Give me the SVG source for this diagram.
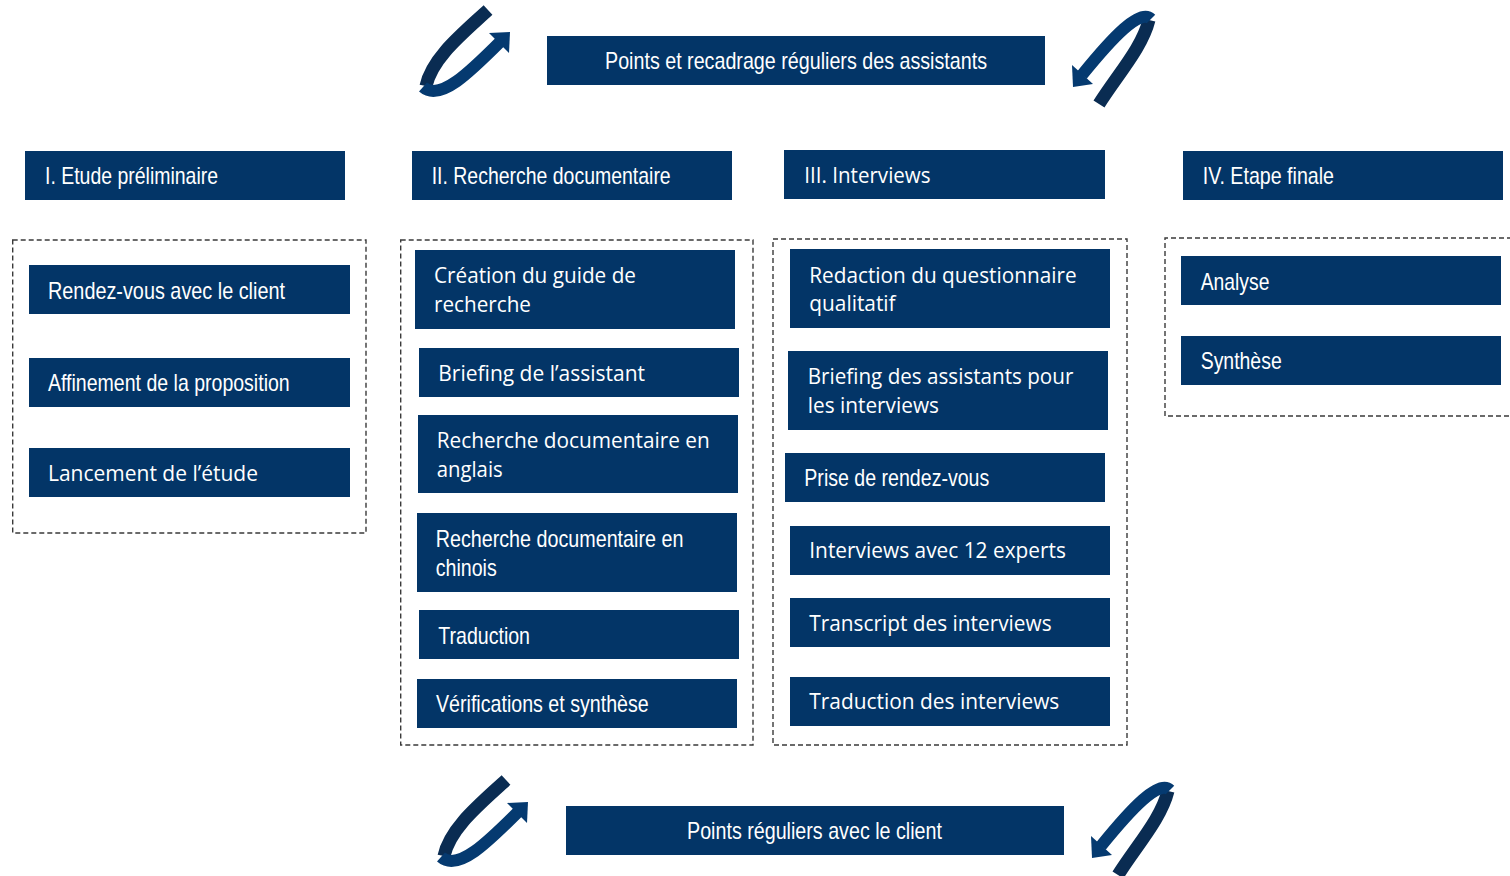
<svg xmlns="http://www.w3.org/2000/svg" width="1510" height="876" viewBox="0 0 1510 876">
<style>
.box{fill:#033567}
.dash{fill:none;stroke:#3a3a3a;stroke-width:1.4;stroke-dasharray:5 3}
.n{font-family:"Liberation Sans Narrow","Liberation Sans",Arial,sans-serif;font-size:24px;fill:#fff}
.o{font-family:"Open Sans","Noto Sans",sans-serif;font-size:21px;fill:#fff}
.back{fill:none;stroke:#0a2c52;stroke-width:13}
.front{fill:none;stroke:#053a70;stroke-width:12}
.head{fill:#053a70}
</style>
<rect width="1510" height="876" fill="#fff"/>
<g id="cycle-arrows">
  <g id="arrow-top-left">
    <path class="back" d="M488 10 C462 34 432 58 426 86"/>
    <path class="front" d="M423 87 C440 102 470 72 501 41"/>
    <polygon class="head" points="510,32 489,33 509,53"/>
  </g>
  <g id="arrow-top-right">
    <path class="back" d="M1099 104 C1118 74 1142 48 1149 20"/>
    <path class="front" d="M1151 19 C1140 8 1112 38 1082 75"/>
    <polygon class="head" points="1073,87 1072,65 1093,84"/>
  </g>
  <g id="arrow-bottom-left" transform="translate(18,770)">
    <path class="back" d="M488 10 C462 34 432 58 426 86"/>
    <path class="front" d="M423 87 C440 102 470 72 501 41"/>
    <polygon class="head" points="510,32 489,33 509,53"/>
  </g>
  <g id="arrow-bottom-right" transform="translate(19,771)">
    <path class="back" d="M1099 104 C1118 74 1142 48 1149 20"/>
    <path class="front" d="M1151 19 C1140 8 1112 38 1082 75"/>
    <polygon class="head" points="1073,87 1072,65 1093,84"/>
  </g>
</g>
<g id="banner-assistants"><rect class="box" x="547" y="36" width="498" height="49"/><text class="n" x="796" y="69" text-anchor="middle" textLength="382" lengthAdjust="spacingAndGlyphs">Points et recadrage réguliers des assistants</text></g>
<g id="banner-client"><rect class="box" x="566" y="806" width="498" height="49"/><text class="n" x="814.5" y="839" text-anchor="middle" textLength="255" lengthAdjust="spacingAndGlyphs">Points réguliers avec le client</text></g>

<g id="phase-1">
  <g id="h1"><rect class="box" x="25" y="151" width="320" height="49"/><text class="n" x="45" y="184" textLength="173" lengthAdjust="spacingAndGlyphs">I. Etude préliminaire</text></g>
  <rect id="group-1" class="dash" x="12.7" y="240" width="353.3" height="293"/>
  <g id="n1-1"><rect class="box" x="29" y="265" width="321" height="49"/><text class="n" x="48" y="299.3" textLength="237" lengthAdjust="spacingAndGlyphs">Rendez-vous avec le client</text></g>
  <g id="n1-2"><rect class="box" x="29" y="358" width="321" height="49"/><text class="n" x="48" y="390.7" textLength="241.7" lengthAdjust="spacingAndGlyphs">Affinement de la proposition</text></g>
  <g id="n1-3"><rect class="box" x="29" y="448" width="321" height="49"/><text class="o" x="48" y="480.7" textLength="210" lengthAdjust="spacingAndGlyphs">Lancement de l’étude</text></g>
</g>

<g id="phase-2">
  <g id="h2"><rect class="box" x="412" y="151" width="320" height="49"/><text class="n" x="431.7" y="184.3" textLength="239" lengthAdjust="spacingAndGlyphs">II. Recherche documentaire</text></g>
  <rect id="group-2" class="dash" x="400.7" y="240" width="352.3" height="505"/>
  <g id="n2-1"><rect class="box" x="415" y="250" width="320" height="79"/><text class="o" x="434" y="282.7" textLength="202" lengthAdjust="spacingAndGlyphs">Création du guide de</text><text class="o" x="434" y="311.7" textLength="97" lengthAdjust="spacingAndGlyphs">recherche</text></g>
  <g id="n2-2"><rect class="box" x="419" y="348" width="320" height="49"/><text class="o" x="438.3" y="380.7" textLength="206.7" lengthAdjust="spacingAndGlyphs">Briefing de l’assistant</text></g>
  <g id="n2-3"><rect class="box" x="418" y="415" width="320" height="78"/><text class="o" x="436.7" y="448" textLength="273" lengthAdjust="spacingAndGlyphs">Recherche documentaire en</text><text class="o" x="436.7" y="476.7" textLength="66" lengthAdjust="spacingAndGlyphs">anglais</text></g>
  <g id="n2-4"><rect class="box" x="417" y="513" width="320" height="79"/><text class="n" x="435.7" y="546.7" textLength="247.7" lengthAdjust="spacingAndGlyphs">Recherche documentaire en</text><text class="n" x="435.7" y="575.7" textLength="61" lengthAdjust="spacingAndGlyphs">chinois</text></g>
  <g id="n2-5"><rect class="box" x="419" y="610" width="320" height="49"/><text class="n" x="438.3" y="644" textLength="91.7" lengthAdjust="spacingAndGlyphs">Traduction</text></g>
  <g id="n2-6"><rect class="box" x="417" y="679" width="320" height="49"/><text class="n" x="436" y="711.7" textLength="212.7" lengthAdjust="spacingAndGlyphs">Vérifications et synthèse</text></g>
</g>

<g id="phase-3">
  <g id="h3"><rect class="box" x="784" y="150" width="321" height="49"/><text class="o" x="804.3" y="182.7" textLength="126.3" lengthAdjust="spacingAndGlyphs">III. Interviews</text></g>
  <rect id="group-3" class="dash" x="773" y="239" width="354" height="506"/>
  <g id="n3-1"><rect class="box" x="790" y="249" width="320" height="79"/><text class="o" x="809.3" y="283.3" textLength="267.3" lengthAdjust="spacingAndGlyphs">Redaction du questionnaire</text><text class="o" x="809.3" y="310.7" textLength="86.3" lengthAdjust="spacingAndGlyphs">qualitatif</text></g>
  <g id="n3-2"><rect class="box" x="788" y="351" width="320" height="79"/><text class="o" x="807.7" y="384.3" textLength="265.7" lengthAdjust="spacingAndGlyphs">Briefing des assistants pour</text><text class="o" x="807.7" y="413.3" textLength="131.3" lengthAdjust="spacingAndGlyphs">les interviews</text></g>
  <g id="n3-3"><rect class="box" x="785" y="453" width="320" height="49"/><text class="n" x="804.3" y="486" textLength="185" lengthAdjust="spacingAndGlyphs">Prise de rendez-vous</text></g>
  <g id="n3-4"><rect class="box" x="790" y="526" width="320" height="49"/><text class="o" x="809.3" y="558.3" textLength="256.7" lengthAdjust="spacingAndGlyphs">Interviews avec 12 experts</text></g>
  <g id="n3-5"><rect class="box" x="790" y="598" width="320" height="49"/><text class="o" x="809.3" y="631" textLength="242.3" lengthAdjust="spacingAndGlyphs">Transcript des interviews</text></g>
  <g id="n3-6"><rect class="box" x="790" y="677" width="320" height="49"/><text class="o" x="809.3" y="709.3" textLength="250" lengthAdjust="spacingAndGlyphs">Traduction des interviews</text></g>
</g>

<g id="phase-4">
  <g id="h4"><rect class="box" x="1183" y="151" width="320" height="49"/><text class="n" x="1202.7" y="184.3" textLength="131.3" lengthAdjust="spacingAndGlyphs">IV. Etape finale</text></g>
  <path id="group-4" class="dash" d="M1520 238 H1165 V416 H1520"/>
  <g id="n4-1"><rect class="box" x="1181" y="256" width="320" height="49"/><text class="n" x="1200.7" y="290" textLength="68.7" lengthAdjust="spacingAndGlyphs">Analyse</text></g>
  <g id="n4-2"><rect class="box" x="1181" y="336" width="320" height="49"/><text class="n" x="1200.7" y="369.3" textLength="81" lengthAdjust="spacingAndGlyphs">Synthèse</text></g>
</g>
</svg>
